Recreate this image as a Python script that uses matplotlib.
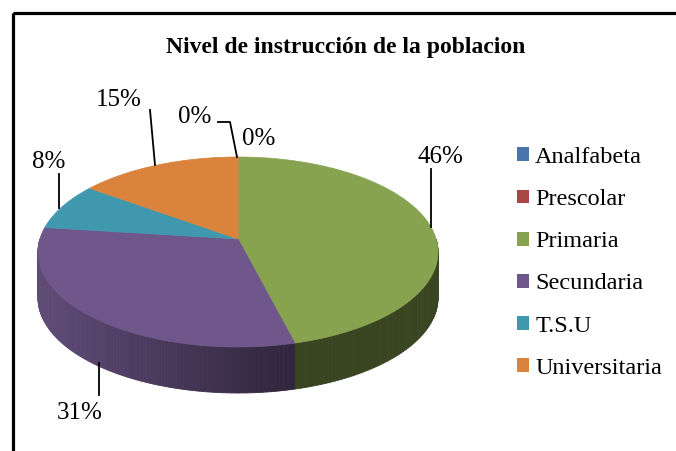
"""Nivel de instruccion de la poblacion - 3D style pie chart."""

import matplotlib.pyplot as plt
import numpy as np
from matplotlib.colors import to_rgb
from matplotlib.patches import Patch, Polygon, Rectangle

categories = ["Analfabeta", "Prescolar", "Primaria", "Secundaria", "T.S.U", "Universitaria"]
values = [0, 0, 46, 31, 8, 15]
pct_labels = ["0%", "0%", "46%", "31%", "8%", "15%"]
colors = ["#4A74AA", "#AA4744", "#87A34F", "#6F578B", "#4098AE", "#D9833D"]
title = "Nivel de instrucción de la poblacion"

# layout (pixel space of a 676x451 canvas)
CX, CY, RX, RY, DEPTH = 238, 252, 200, 95, 46
PERSP = 0.137  # perspective shift of the pie centre towards the back
label_pos = [(195, 117), (259, 139), (440, 157), (80, 413), (49, 162), (119, 100)]
leaders = [
    [(218, 122), (230, 122), (237, 157)],
    None,
    [(431, 169), (431, 227)],
    [(99, 363), (99, 395)],
    [(59, 174), (59, 208)],
    [(150, 110), (155, 165)],
]

plt.rcParams["font.family"] = ["Liberation Serif", "DejaVu Serif"]


def persp(x, y):
    """Projective map of the unit circle onto itself (perspective look)."""
    d = 1 + PERSP * y
    return x * np.sqrt(1 - PERSP ** 2) / d, (y + PERSP) / d


def ell(theta, dy=0.0):
    """Points on the pie rim, theta in degrees clockwise from 12 o'clock."""
    t = np.radians(np.atleast_1d(theta))
    x, y = persp(np.sin(t), np.cos(t))
    return np.column_stack([CX + RX * x, CY - RY * y + dy])


def side_shade(x):
    # side wall gets darker from left to right, then flat
    return 0.42 + 0.44 * np.clip((300 - x) / 260, 0, 1)


fig = plt.figure(figsize=(6.76, 4.51), dpi=100)
ax = fig.add_axes([0, 0, 1, 1])
ax.set_xlim(0, 676)
ax.set_ylim(451, 0)
ax.axis("off")

total = sum(values)
bounds = np.concatenate([[0], np.cumsum(values)]) / total * 360
cx0, cy0 = persp(0.0, 0.0)
apex = (CX + RX * cx0, CY - RY * cy0)

# side walls (front half only: 90..270 deg)
for i, col in enumerate(colors):
    a, b = max(bounds[i], 90), min(bounds[i + 1], 270)
    if b <= a:
        continue
    base = np.array(to_rgb(col))
    steps = np.linspace(a, b, max(int(b - a), 1) + 1)
    for t0, t1 in zip(steps[:-1], steps[1:]):
        top = ell([t0, t1])
        bot = ell([t1, t0], DEPTH)
        c = np.clip(base * side_shade(top[:, 0].mean()), 0, 1)
        ax.add_patch(Polygon(np.vstack([top, bot]), closed=True, facecolor=c,
                             edgecolor=c, linewidth=0.6))

# top faces
for i, col in enumerate(colors):
    a, b = bounds[i], bounds[i + 1]
    if b <= a:
        continue
    arc = ell(np.linspace(a, b, max(int(b - a), 2) + 1))
    pts = np.vstack([apex, arc])
    ax.add_patch(Polygon(pts, closed=True, facecolor=col, edgecolor=col,
                         linewidth=0.5))

# data labels with leader lines
for lab, (tx, ty), path in zip(pct_labels, label_pos, leaders):
    ax.text(tx, ty, lab, ha="center", va="center", fontsize=18)
    if path:
        xs, ys = zip(*path)
        ax.plot(xs, ys, color="black", linewidth=1.3)

ax.text(346, 47, title, ha="center", va="center", fontsize=17, weight="bold")

handles = [Patch(facecolor=c, edgecolor="none") for c in colors]
ax.legend(handles, categories, loc="upper left", bbox_to_anchor=(517, 147),
          bbox_transform=ax.transData, frameon=False, fontsize=17.5,
          handlelength=0.5, handleheight=0.5, handletextpad=0.25,
          labelspacing=0.87, borderpad=0, borderaxespad=0)

# outer chart frame (runs off the right and bottom edges)
ax.add_patch(Rectangle((13, 13), 700, 500, fill=False, edgecolor="black",
                       linewidth=2.3))

fig.savefig("out.png", dpi=100)
plt.close(fig)
